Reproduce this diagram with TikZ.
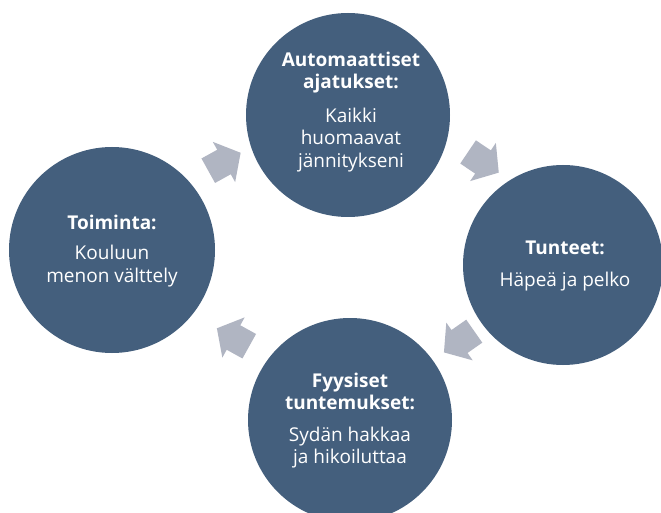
\documentclass[tikz,border=0pt]{standalone}
\usepackage{fontspec}
\setmainfont{Open Sans}
\definecolor{circblue}{RGB}{68,95,125}
\definecolor{arrowgray}{RGB}{176,181,194}
\tikzset{
  bubble/.style={circle, fill=circblue, draw=none, inner sep=0pt},
  headtxt/.style={text=white, align=center, font=\fontsize{19}{22}\selectfont\bfseries, inner sep=0pt},
  bodytxt/.style={text=white, align=center, font=\fontsize{19}{22.5}\selectfont, inner sep=0pt},
  blockarrow/.pic={\fill[arrowgray] (-18,14) -- (0,14) -- (0,23) -- (19,0) -- (0,-23) -- (0,-14) -- (-18,-14) -- cycle;}
}
\begin{document}
\begin{tikzpicture}[x=1pt,y=1pt]
\useasboundingbox (0,0) rectangle (661,512);
\fill[white] (0,0) rectangle (661,512);
% circles
\node[bubble, minimum size=204pt] (top) at (348,397) {};
\node[bubble, minimum size=200pt] (right) at (563,247) {};
\node[bubble, minimum size=204pt] (bottom) at (350,92) {};
\node[bubble, minimum size=206pt] (left) at (112,262) {};
% texts
\node[headtxt] (toph) at (351,439) {Automaattiset\\ajatukset:};
\node[bodytxt] (topb) at (351,372) {Kaikki\\huomaavat\\jännitykseni};
\node[headtxt] (righth) at (565,264) {Tunteet:};
\node[bodytxt] (rightb) at (565,230) {Häpeä ja pelko};
\node[headtxt] (bottomh) at (350,120.5) {Fyysiset\\tuntemukset:};
\node[bodytxt] (bottomb) at (350,64.5) {Sydän hakkaa\\ja hikoiluttaa};
\node[headtxt] (lefth) at (112,290) {Toiminta:};
\node[bodytxt] (leftb) at (112,246) {Kouluun\\menon välttely};
% arrows
\pic[rotate=29] at (224,350) {blockarrow};
\pic[rotate=-34] at (483,350) {blockarrow};
\pic[rotate=215] at (459.5,170.5) {blockarrow};
\pic[rotate=151] at (233.5,174.5) {blockarrow};
\end{tikzpicture}
\end{document}
